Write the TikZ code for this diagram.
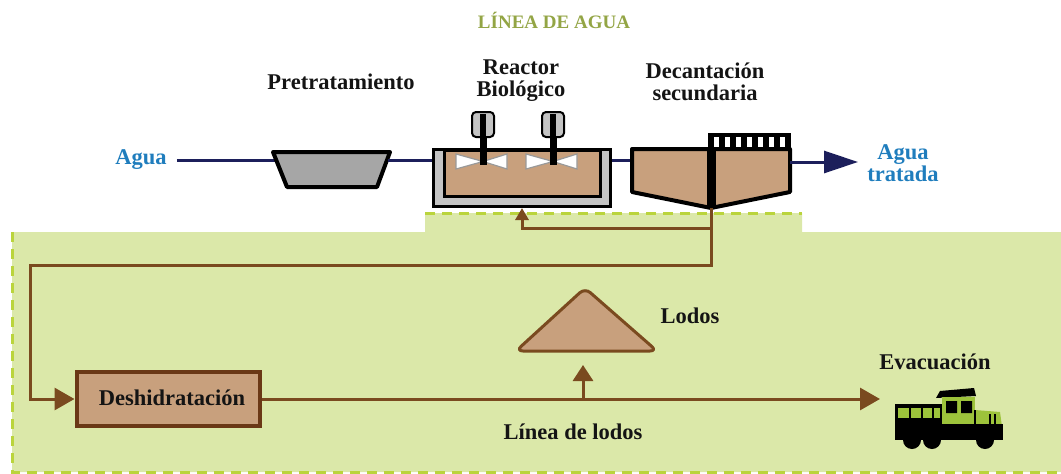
\documentclass[tikz,border=0pt]{standalone}
\usepackage{fontspec}
\setmainfont{Liberation Serif}
\usetikzlibrary{arrows.meta}

\definecolor{navy}{HTML}{1C1F5B}
\definecolor{aguablue}{HTML}{1F7DBD}
\definecolor{titlegreen}{HTML}{93A545}
\definecolor{zonegreen}{HTML}{DBE8A9}
\definecolor{dashgreen}{HTML}{BAD43C}
\definecolor{tan}{HTML}{C8A07D}
\definecolor{mud}{HTML}{7A4A1F}
\definecolor{darkmud}{HTML}{6A3816}
\definecolor{pregray}{HTML}{A6A6A6}
\definecolor{rimgray}{HTML}{C4C4C4}
\definecolor{truckgreen}{HTML}{9DC33B}
\definecolor{labeltext}{HTML}{141414}

\tikzset{
  lbl/.style={font=\fontsize{22.5}{22}\selectfont\bfseries, text=labeltext, align=center, inner sep=0pt},
  water/.style={navy, line width=3pt},
  sludge/.style={mud, line width=3pt},
  zoneedge/.style={dashgreen, line width=3pt, dash pattern=on 10pt off 7pt},
  dbox/.style={draw=darkmud, fill=tan, line width=4pt, minimum width=183pt, minimum height=54pt, inner sep=0pt}
}

\begin{document}
\begin{tikzpicture}[x=1pt, y=-1pt]
	\useasboundingbox (0,0) rectangle (1061,474);
	% zona de lodos
	\fill[zonegreen] (12,232) -- (425,232) -- (425,213) -- (802,213) -- (802,232) -- (1061,232) -- (1061,472) -- (12,472) -- cycle;
	\draw[zoneedge] (12,232) -- (12,472) -- (1061,472);
	\draw[zoneedge] (425,213) -- (802,213);

	\node[lbl, text=titlegreen, font=\fontsize{19}{19}\selectfont\bfseries] (titulo) at (554,20) {LÍNEA DE AGUA};
	\node[lbl] (pretlbl) at (341,82) {Pretratamiento};
	\node[lbl] (reaclbl) at (521,81) {Reactor\\Biológico};
	\node[lbl] (declbl) at (705,82) {Decantación\\secundaria};
	\node[lbl, text=aguablue] (agua) at (141,160) {Agua};
	\node[lbl, text=aguablue] (tratada) at (903,163) {Agua\\tratada};

	% pretratamiento
	\coordinate (pre-w) at (277,160);
	\coordinate (pre-e) at (388,160);
	\draw[water, shorten <=10pt] (agua) -- (pre-w);
	\filldraw[fill=pregray, draw=black, line width=4pt, line join=round] (273,152) -- (390,152) -- (377,187) -- (287,187) -- cycle;

	% reactor
	\node[draw, line width=3pt, fill=rimgray, minimum width=177pt, minimum height=57pt, inner sep=0pt] (reactor) at (522,178) {};
	\filldraw[draw=black, fill=tan, line width=3pt] (444,150) rectangle (600,196);
	\foreach \m in {483,553} {
		\filldraw[fill=white, draw=gray!80, line width=1.2pt] (\m-27,154) -- (\m-27,169) -- (\m,161.5) -- cycle;
		\filldraw[fill=white, draw=gray!80, line width=1.2pt] (\m+24,154) -- (\m+24,169) -- (\m,161.5) -- cycle;
		\draw[line width=7pt] (\m,136) -- (\m,165);
		\filldraw[fill=rimgray, draw=black, line width=2pt, rounded corners=4pt] (\m-11,112) rectangle (\m+11,137);
		\fill (\m-3,114) rectangle (\m+3,137);
	}
	\draw[water] (pre-e) -- (reactor.west |- pre-e);

	% decantador
	\coordinate (dec-w) at (632,160);
	\coordinate (dec-e) at (790,162);
	\coordinate (dec-tip) at (711,208);
	\coordinate (salida) at (858,162);
	\draw[water] (reactor.east |- dec-w) -- (dec-w);
	\filldraw[fill=tan, draw=black, line width=4pt, line join=round] (632,149) -- (790,149) -- (790,192) -- (711,208) -- (632,192) -- cycle;
	\draw[line width=9pt] (711,147) -- (711,206);
	\fill (708,133) rectangle (791,149);
	\foreach \s in {0,...,6}
		\fill[white] (714+11*\s,137) rectangle (719+11*\s,147);
	\draw[water, -{Triangle[length=34pt, width=22pt]}] (dec-e) -- (salida);

	% linea de lodos
	\coordinate (tee) at (711,228);
	\coordinate (giro) at (30,265);
	\coordinate (evac) at (880,399);
	\coordinate (pie) at (583,399);
	\coordinate (pila) at (583,365);
	\node[dbox] (deshid) at (168,399) {};
	\node[lbl] (deshlbl) at (172,398) {Deshidratación};
	\draw[sludge, -{Triangle[length=12pt, width=13pt]}] (tee) -| (reactor.south);
	\draw[sludge, -{Triangle[length=20pt, width=22pt]}] (dec-tip) |- (giro) |- (deshid);
	\draw[sludge, -{Triangle[length=20pt, width=22pt]}] (deshid) -- (evac);
	\draw[sludge, -{Triangle[length=16pt, width=20pt]}] (pie) -- (pila);
	\filldraw[fill=tan, draw=mud, line width=3pt, rounded corners=7pt] (586,351) -- (657,351) -- (585,288) -- (516,351) -- cycle;
	\node[lbl] (lodos) at (690,316) {Lodos};
	\node[lbl] (linlodos) at (573,432) {Línea de lodos};
	\node[lbl] (evaclbl) at (935,362) {Evacuación};

	% camion
	\fill (895,404) rectangle (943,426);
	\fill[truckgreen] (898,408) rectangle (940,418);
	\draw[line width=2pt] (910,408) -- (910,418) (922,408) -- (922,418) (933,408) -- (933,418);
	\fill (936,398) -- (940,391) -- (974,388) -- (976,396) -- cycle;
	\fill[truckgreen] (942,397) rectangle (975,430);
	\fill (946,401) rectangle (957,413) (961,401) rectangle (972,413);
	\fill[truckgreen] (975,410) -- (1000,412) -- (1003,434) -- (975,434) -- cycle;
	\draw[line width=1.5pt] (990,414) -- (990,432) (995,414) -- (995,432) (975,410) -- (975,434);
	\fill (895,424) rectangle (1003,440);
	\fill (912,440) circle (9) (932,440) circle (9) (985,440) circle (9);
\end{tikzpicture}
\end{document}
